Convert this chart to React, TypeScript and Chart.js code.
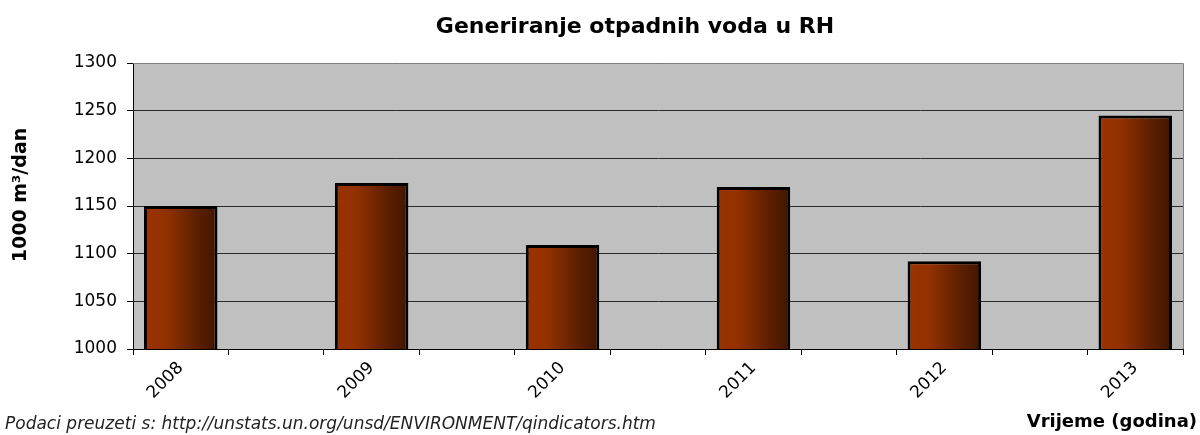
import React, { useEffect, useRef } from "react";
import { Chart, registerables } from "chart.js";

Chart.register(...registerables);

const chartTitle = "Generiranje otpadnih voda u RH";
const yAxisTitle = "1000 m³/dan";
const xAxisTitle = "Vrijeme (godina)";
const sourceNote = "Podaci preuzeti s: http://unstats.un.org/unsd/ENVIRONMENT/qindicators.htm";

const years = ["2008", "2009", "2010", "2011", "2012", "2013"];
const wastewater = [1150, 1174, 1109, 1170, 1092, 1245];

const yMin = 1000;
const yMax = 1300;
const yStep = 50;

// Excel-like category layout: one empty slot between consecutive years
const slotLabels: string[] = years.flatMap((y, i) => (i < years.length - 1 ? [y, ""] : [y]));
const slotValues: (number | null)[] = wastewater.flatMap((v, i) =>
  i < wastewater.length - 1 ? [v, null] : [v]
);

const FONT = "'DejaVu Sans', 'Liberation Sans', Arial, sans-serif";
const BAR_PCT = 0.77;

export default function App() {
  const canvasRef = useRef<HTMLCanvasElement | null>(null);

  useEffect(() => {
    document.body.style.margin = "0";
    const canvas = canvasRef.current;
    if (!canvas) return;

    const decor = {
      id: "decor",
      beforeDraw(chart: any) {
        const { ctx, chartArea } = chart;
        ctx.save();
        ctx.fillStyle = "#ffffff";
        ctx.fillRect(0, 0, chart.width, chart.height);
        ctx.fillStyle = "#c0c0c0";
        ctx.fillRect(chartArea.left, chartArea.top, chartArea.right - chartArea.left, chartArea.bottom - chartArea.top);
        ctx.restore();
      },
      afterDraw(chart: any) {
        const { ctx, chartArea } = chart;
        ctx.save();
        // top and right frame of plot area
        ctx.strokeStyle = "#808080";
        ctx.lineWidth = 1;
        ctx.beginPath();
        ctx.moveTo(chartArea.left, chartArea.top + 0.5);
        ctx.lineTo(chartArea.right + 0.5, chartArea.top + 0.5);
        ctx.lineTo(chartArea.right + 0.5, chartArea.bottom);
        ctx.stroke();

        ctx.fillStyle = "#000";
        // title
        ctx.font = `bold 22px ${FONT}`;
        ctx.textAlign = "center";
        ctx.textBaseline = "middle";
        ctx.fillText(chartTitle, 635, 27);
        // y title
        ctx.save();
        ctx.translate(21, 195);
        ctx.rotate(-Math.PI / 2);
        ctx.font = `bold 19px ${FONT}`;
        ctx.fillText(yAxisTitle, 0, 0);
        ctx.restore();
        // x title
        ctx.font = `bold 18px ${FONT}`;
        ctx.textAlign = "right";
        ctx.fillText(xAxisTitle, 1197, 422);
        // source note
        ctx.font = `italic 17px ${FONT}`;
        ctx.textAlign = "left";
        ctx.fillStyle = "#222";
        ctx.fillText(sourceNote, 5, 425);
        ctx.restore();
      },
    };

    const chart = new Chart(canvas, {
      type: "bar",
      data: {
        labels: slotLabels,
        datasets: [
          {
            data: slotValues,
            borderColor: "#000000",
            borderWidth: 3,
            borderSkipped: false,
            categoryPercentage: 1,
            barPercentage: BAR_PCT,
            backgroundColor: (c: any) => {
              const ch = c.chart;
              const area = ch.chartArea;
              const xs = ch.scales && ch.scales.x;
              if (!area || !xs) return "#8a2e00";
              const cx = xs.getPixelForValue(c.dataIndex);
              const half = ((area.right - area.left) / slotLabels.length) * BAR_PCT / 2;
              const g = ch.ctx.createLinearGradient(cx - half, 0, cx + half, 0);
              g.addColorStop(0, "#9a3300");
              g.addColorStop(0.3, "#923100");
              g.addColorStop(0.72, "#5c1f00");
              g.addColorStop(1, "#401500");
              return g;
            },
          },
        ],
      },
      options: {
        responsive: false,
        animation: false,
        devicePixelRatio: 1,
        layout: { padding: { top: 63, right: 17, left: 0, bottom: 0 } },
        plugins: {
          legend: { display: false },
          title: { display: false },
          tooltip: { enabled: false },
        },
        scales: {
          x: {
            afterFit: (s: any) => {
              s.height = 86;
            },
            grid: {
              offset: true,
              drawOnChartArea: false,
              drawTicks: true,
              tickLength: 6,
              color: "#000",
            },
            border: { display: true, color: "#000", width: 1 },
            ticks: {
              autoSkip: false,
              maxRotation: 45,
              minRotation: 45,
              padding: 3,
              color: "#000",
              font: { family: FONT, size: 17 },
            },
          },
          y: {
            min: yMin,
            max: yMax,
            afterFit: (s: any) => {
              s.width = 133;
            },
            grid: {
              color: "#2a2a2a",
              lineWidth: 1,
              drawTicks: true,
              tickLength: 6,
              tickColor: "#000",
            },
            border: { display: true, color: "#000", width: 1 },
            ticks: {
              stepSize: yStep,
              padding: 10,
              color: "#000",
              font: { family: FONT, size: 17 },
              callback: (v: any) => String(v),
            },
          },
        },
      },
      plugins: [decor],
    } as any);

    return () => chart.destroy();
  }, []);

  return (
    <div style={{ width: 1200, height: 435 }}>
      <canvas ref={canvasRef} width={1200} height={435} style={{ display: "block" }} />
    </div>
  );
}
